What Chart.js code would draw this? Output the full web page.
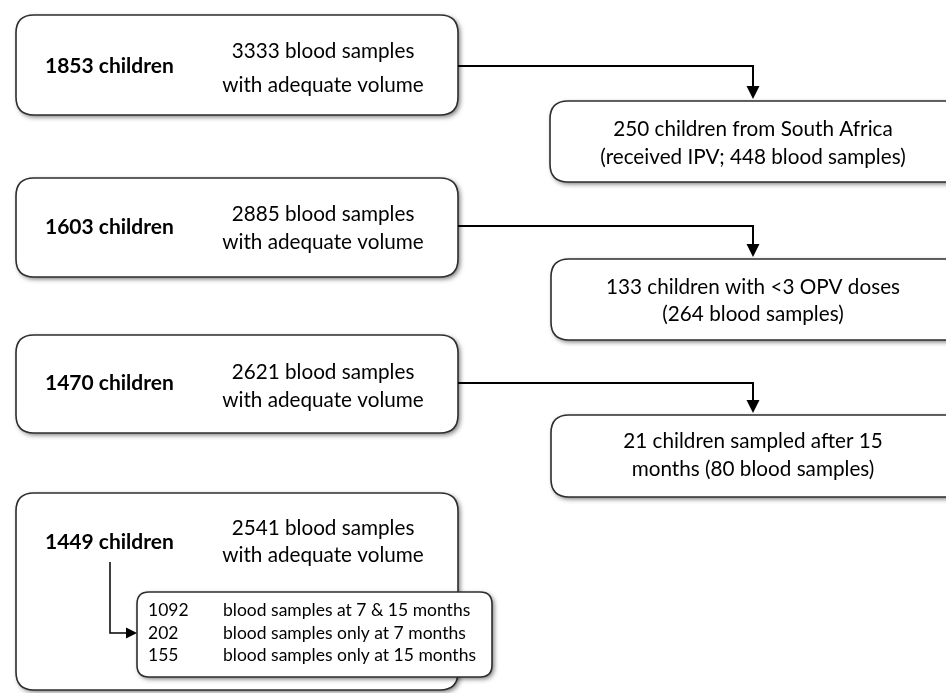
<!DOCTYPE html>
<html>
<head>
<meta charset="utf-8">
<script src="https://cdn.jsdelivr.net/npm/chart.js@4/dist/chart.umd.min.js"></script>
<style>
  html, body { margin: 0; padding: 0; background: #ffffff; }
  #wrap { width: 946px; height: 693px; position: relative; }
</style>
</head>
<body>
<div id="wrap"><canvas id="c"></canvas></div>
<script>
// ---- Data ----
const stageChildren = [1853, 1603, 1470, 1449];
const stageSamples = [3333, 2885, 2621, 2541];
const exclusionChildren = [250, 133, 21];
const exclusionSamples = [448, 264, 80];
const breakdownCounts = [1092, 202, 155];
const breakdownLabels = ['blood samples at 7 & 15 months', 'blood samples only at 7 months', 'blood samples only at 15 months'];

// text built from the data
const stageBold = stageChildren.map(n => n + ' children');
const stageLines = stageSamples.map(n => [n + ' blood samples', 'with adequate volume']);
const exclusionText = [
  [exclusionChildren[0] + ' children from South Africa', '(received IPV; ' + exclusionSamples[0] + ' blood samples)'],
  [exclusionChildren[1] + ' children with <3 OPV doses', '(' + exclusionSamples[1] + ' blood samples)'],
  [exclusionChildren[2] + ' children sampled after 15', 'months (' + exclusionSamples[2] + ' blood samples)']
];

// ---- Layout (in scale units, 1 unit = 1 px) ----
const leftBoxes = [
  { x0: 16, y0: 15, x1: 458, y1: 115, boldY: 66, lineY: [51, 85] },
  { x0: 16, y0: 178, x1: 458, y1: 277, boldY: 227, lineY: [214, 242] },
  { x0: 16, y0: 335, x1: 458, y1: 433, boldY: 383, lineY: [372, 400] },
  { x0: 16, y0: 493, x1: 458, y1: 690, boldY: 542, lineY: [528, 555] }
];
const rightBoxes = [
  { x0: 550, y0: 101, x1: 965, y1: 182, lineY: [129, 157] },
  { x0: 551, y0: 259, x1: 965, y1: 340, lineY: [287, 314] },
  { x0: 551, y0: 415, x1: 965, y1: 497, lineY: [441, 469] }
];
const connectorY = [66, 226, 383];
const connectorX = 753;
const innerBox = { x0: 137, y0: 592, x1: 492, y1: 677, rowY: [610, 633, 655], numX: 148, labX: 223 };
const FONT = 'Lato, "Open Sans", sans-serif';

function rr(ctx, x0, y0, x1, y1, r) {
  ctx.beginPath();
  ctx.moveTo(x0 + r, y0);
  ctx.lineTo(x1 - r, y0);
  ctx.quadraticCurveTo(x1, y0, x1, y0 + r);
  ctx.lineTo(x1, y1 - r);
  ctx.quadraticCurveTo(x1, y1, x1 - r, y1);
  ctx.lineTo(x0 + r, y1);
  ctx.quadraticCurveTo(x0, y1, x0, y1 - r);
  ctx.lineTo(x0, y0 + r);
  ctx.quadraticCurveTo(x0, y0, x0 + r, y0);
  ctx.closePath();
}

const flowPlugin = {
  id: 'flow',
  afterDraw(chart) {
    const ctx = chart.ctx;
    const sx = chart.scales.x, sy = chart.scales.y;
    const X = v => sx.getPixelForValue(v);
    const Y = v => sy.getPixelForValue(v);

    function box(b, r) {
      ctx.save();
      rr(ctx, X(b.x0), Y(b.y0), X(b.x1), Y(b.y1), r);
      ctx.shadowColor = 'rgba(0,0,0,0.55)';
      ctx.shadowBlur = 5;
      ctx.shadowOffsetX = 2;
      ctx.shadowOffsetY = 2;
      ctx.fillStyle = '#ffffff';
      ctx.fill();
      ctx.restore();
      ctx.save();
      rr(ctx, X(b.x0), Y(b.y0), X(b.x1), Y(b.y1), r);
      ctx.lineWidth = 1.6;
      ctx.strokeStyle = '#2e2e2e';
      ctx.stroke();
      ctx.restore();
    }
    function arrowHead(x, y, dir) {
      ctx.beginPath();
      if (dir === 'down') {
        ctx.moveTo(x, y); ctx.lineTo(x - 6.5, y - 13); ctx.lineTo(x + 6.5, y - 13);
      } else {
        ctx.moveTo(x, y); ctx.lineTo(x - 11, y - 5.5); ctx.lineTo(x - 11, y + 5.5);
      }
      ctx.closePath();
      ctx.fillStyle = '#000';
      ctx.fill();
    }

    ctx.save();
    ctx.fillStyle = '#ffffff';
    ctx.fillRect(0, 0, chart.width, chart.height);
    ctx.restore();

    // left boxes
    leftBoxes.forEach((b, i) => {
      box(b, 18);
      ctx.fillStyle = '#000';
      ctx.textBaseline = 'middle';
      ctx.textAlign = 'left';
      ctx.font = 'bold 21px ' + FONT;
      ctx.fillText(stageBold[i], X(45), Y(b.boldY));
      ctx.textAlign = 'center';
      ctx.font = '20.7px ' + FONT;
      stageLines[i].forEach((t, k) => ctx.fillText(t, X(323), Y(b.lineY[k])));
    });

    // connectors
    ctx.save();
    ctx.strokeStyle = '#000';
    ctx.lineWidth = 2;
    connectorY.forEach((cy, i) => {
      const top = rightBoxes[i].y0;
      ctx.beginPath();
      ctx.moveTo(X(leftBoxes[i].x1), Y(cy));
      ctx.lineTo(X(connectorX), Y(cy));
      ctx.lineTo(X(connectorX), Y(top - 12));
      ctx.stroke();
      arrowHead(X(connectorX), Y(top - 2), 'down');
    });
    ctx.restore();

    // right boxes
    rightBoxes.forEach((b, i) => {
      box(b, 18);
      ctx.fillStyle = '#000';
      ctx.textBaseline = 'middle';
      ctx.textAlign = 'center';
      ctx.font = '20.7px ' + FONT;
      exclusionText[i].forEach((t, k) => ctx.fillText(t, X(connectorX), Y(b.lineY[k])));
    });

    // inner breakdown box
    box(innerBox, 12);
    ctx.save();
    ctx.strokeStyle = '#000';
    ctx.lineWidth = 1.5;
    ctx.beginPath();
    ctx.moveTo(X(110), Y(562));
    ctx.lineTo(X(110), Y(633));
    ctx.lineTo(X(128), Y(633));
    ctx.stroke();
    arrowHead(X(137), Y(633), 'right');
    ctx.restore();
    ctx.fillStyle = '#000';
    ctx.textBaseline = 'middle';
    ctx.textAlign = 'left';
    ctx.font = '17.5px ' + FONT;
    breakdownCounts.forEach((n, k) => {
      ctx.fillText(String(n), X(innerBox.numX), Y(innerBox.rowY[k]));
      ctx.fillText(breakdownLabels[k], X(innerBox.labX), Y(innerBox.rowY[k]));
    });
  }
};

function make() {
  new Chart(document.getElementById('c'), {
    type: 'scatter',
    data: { datasets: [{ data: [], pointRadius: 0 }] },
    options: {
      responsive: true,
      maintainAspectRatio: false,
      animation: false,
      layout: { padding: 0 },
      plugins: { legend: { display: false }, tooltip: { enabled: false } },
      scales: {
        x: { type: 'linear', min: 0, max: 946, display: false },
        y: { type: 'linear', min: 0, max: 693, reverse: true, display: false }
      }
    },
    plugins: [flowPlugin]
  });
}
if (document.fonts && document.fonts.load) {
  Promise.all([document.fonts.load('20px Lato'), document.fonts.load('bold 21px Lato')]).then(make, make);
} else { make(); }
</script>
</body>
</html>
